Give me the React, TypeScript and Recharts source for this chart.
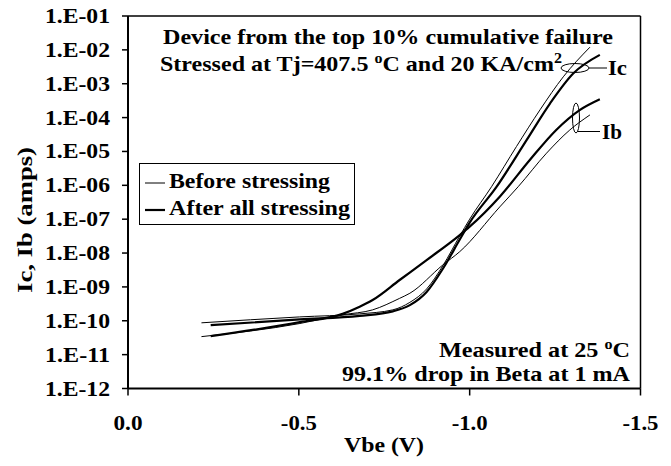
import React from 'react';
import { LineChart, Line, XAxis, YAxis, ReferenceLine } from 'recharts';

// Vbe (V) and current (A)
const vbeIcBefore = [-0.215, -0.502, -0.678, -0.775, -0.825, -0.874, -0.922, -0.971, -1.0, -1.064, -1.137, -1.206, -1.274, -1.352];
const icBefore = [8.7e-11, 1.3e-10, 1.6e-10, 2.1e-10, 3.5e-10, 8.7e-10, 4.3e-9, 3.2e-8, 1.0e-7, 9.1e-7, 1.4e-5, 1.7e-4, 1.6e-3, 1.2e-2];

const vbeIcAfter = [-0.242, -0.503, -0.678, -0.775, -0.825, -0.874, -0.922, -0.971, -1.0, -1.079, -1.167, -1.235, -1.303, -1.381];
const icAfter = [7.4e-11, 1.1e-10, 1.4e-10, 1.9e-10, 2.9e-10, 7.1e-10, 3.5e-9, 2.5e-8, 7.9e-8, 9.1e-7, 2.2e-5, 2.6e-4, 2.0e-3, 7.1e-3];

const vbeIbBefore = [-0.215, -0.503, -0.628, -0.716, -0.795, -0.825, -0.922, -0.971, -1.088, -1.142, -1.225, -1.293, -1.352];
const ibBefore = [3.4e-11, 8.3e-11, 1.5e-10, 2.1e-10, 4.6e-10, 6.5e-10, 4.5e-9, 1.1e-8, 2.3e-7, 9.1e-7, 8.9e-6, 4.3e-5, 1.2e-4];

const vbeIbAfter = [-0.242, -0.503, -0.628, -0.678, -0.716, -0.795, -0.874, -0.971, -1.0, -1.088, -1.176, -1.254, -1.323, -1.381];
const ibAfter = [3.5e-11, 9.1e-11, 1.6e-10, 2.6e-10, 4.1e-10, 1.6e-9, 6.2e-9, 3.4e-8, 6.0e-8, 4.6e-7, 5.6e-6, 4.4e-5, 1.7e-4, 3.5e-4];

const xTicks = [0, -0.5, -1.0, -1.5];
const yTicks = [1e-1, 1e-2, 1e-3, 1e-4, 1e-5, 1e-6, 1e-7, 1e-8, 1e-9, 1e-10, 1e-11, 1e-12];

const FONT = '"Liberation Serif", "Times New Roman", Tinos, serif';

const pairUp = (v: number[], i: number[]) => v.map((x, k) => ({ v: x, i: i[k] }));

const icBeforeData = pairUp(vbeIcBefore, icBefore);
const icAfterData = pairUp(vbeIcAfter, icAfter);
const ibBeforeData = pairUp(vbeIbBefore, ibBefore);
const ibAfterData = pairUp(vbeIbAfter, ibAfter);

const fmtY = (val: number) => {
  const e = Math.round(Math.log10(val));
  return `1.E-${String(-e).padStart(2, '0')}`;
};

const YTick = (props: any) => {
  const { x, y, payload } = props;
  return (
    <text x={x} y={y} dy={7} textAnchor="end" fontFamily={FONT} fontWeight="bold" fontSize={21} fill="#000"
      textLength={65} lengthAdjust="spacingAndGlyphs">
      {fmtY(payload.value)}
    </text>
  );
};

const XTick = (props: any) => {
  const { x, y, payload } = props;
  const label = payload.value === 0 ? '0.0' : Number(payload.value).toFixed(1);
  return (
    <text x={x} y={y} dy={32} textAnchor="middle" fontFamily={FONT} fontWeight="bold" fontSize={21} fill="#000"
      textLength={label.length === 3 ? 29 : 36} lengthAdjust="spacingAndGlyphs">
      {label}
    </text>
  );
};

const axisStyle = { stroke: '#000', strokeWidth: 2 };
const tickStyle = { stroke: '#000', strokeWidth: 1.5 };

export default function App() {
  return (
    <div style={{ position: 'absolute', left: 0, top: 0, width: 671, height: 466, background: '#fff' }}>
      <LineChart width={671} height={466} margin={{ top: 16, right: 30.5, bottom: 37.5, left: 18 }}>
        <XAxis type="number" dataKey="v" domain={[-1.5, 0]} reversed ticks={xTicks} interval={0}
          tick={XTick} tickSize={7} axisLine={axisStyle} tickLine={tickStyle} height={40} allowDataOverflow />
        <YAxis type="number" scale="log" domain={[1e-12, 1e-1]} ticks={yTicks} interval={0}
          tick={YTick} tickSize={6} tickMargin={12} width={110} axisLine={axisStyle} tickLine={tickStyle} allowDataOverflow />
        <ReferenceLine y={0.1} stroke="#000" strokeWidth={1.5} />
        <ReferenceLine x={-1.5} stroke="#000" strokeWidth={1.5} />
        <Line data={icBeforeData} dataKey="i" type="monotone" stroke="#000" strokeWidth={1} dot={false} isAnimationActive={false} />
        <Line data={ibBeforeData} dataKey="i" type="monotone" stroke="#000" strokeWidth={1} dot={false} isAnimationActive={false} />
        <Line data={icAfterData} dataKey="i" type="monotone" stroke="#000" strokeWidth={2.2} dot={false} isAnimationActive={false} />
        <Line data={ibAfterData} dataKey="i" type="monotone" stroke="#000" strokeWidth={2.2} dot={false} isAnimationActive={false} />
      </LineChart>

      <svg width={671} height={466} style={{ position: 'absolute', left: 0, top: 0, pointerEvents: 'none' }}>
        <g fontFamily={FONT} fontWeight="bold" fontSize={21} fill="#000">
          <text x={163} y={44} textLength={450} lengthAdjust="spacingAndGlyphs">Device from the top 10% cumulative failure</text>
          <text x={160} y={70.7} textLength={402} lengthAdjust="spacingAndGlyphs">
            Stressed at Tj=407.5 <tspan dy={-8} fontSize={14}>o</tspan><tspan dy={8}>C and 20 KA/cm</tspan><tspan dy={-8} fontSize={14}>2</tspan>
          </text>
          <text x={630} y={357} textAnchor="end" textLength={191} lengthAdjust="spacingAndGlyphs">
            Measured at 25 <tspan dy={-8} fontSize={14}>o</tspan><tspan dy={8}>C</tspan>
          </text>
          <text x={630} y={380.5} textAnchor="end" textLength={288} lengthAdjust="spacingAndGlyphs">99.1% drop in Beta at 1 mA</text>

          <rect x={139.5} y={163.5} width={215} height={61} fill="#fff" stroke="#000" strokeWidth={1} />
          <line x1={145} x2={165} y1={183} y2={183} stroke="#000" strokeWidth={1} />
          <line x1={145} x2={165} y1={210} y2={210} stroke="#000" strokeWidth={2.2} />
          <text x={169} y={187.5} textLength={161} lengthAdjust="spacingAndGlyphs">Before stressing</text>
          <text x={169} y={215} textLength={181} lengthAdjust="spacingAndGlyphs">After all stressing</text>

          <ellipse cx={575} cy={68} rx={14} ry={4.5} fill="none" stroke="#000" strokeWidth={1} />
          <line x1={589} x2={607} y1={68} y2={68} stroke="#000" strokeWidth={1} />
          <text x={608} y={75} textLength={19} lengthAdjust="spacingAndGlyphs">Ic</text>
          <ellipse cx={576} cy={118} rx={3.5} ry={15} fill="none" stroke="#000" strokeWidth={1} />
          <line x1={578} x2={600} y1={131.5} y2={131.5} stroke="#000" strokeWidth={1} />
          <text x={602} y={139} textLength={20} lengthAdjust="spacingAndGlyphs">Ib</text>

          <text x={384} y={452} textAnchor="middle" textLength={80} lengthAdjust="spacingAndGlyphs">Vbe (V)</text>
          <text transform="rotate(-90)" x={-220} y={32} textAnchor="middle" textLength={146} lengthAdjust="spacingAndGlyphs">Ic, Ib (amps)</text>
        </g>
      </svg>
    </div>
  );
}
